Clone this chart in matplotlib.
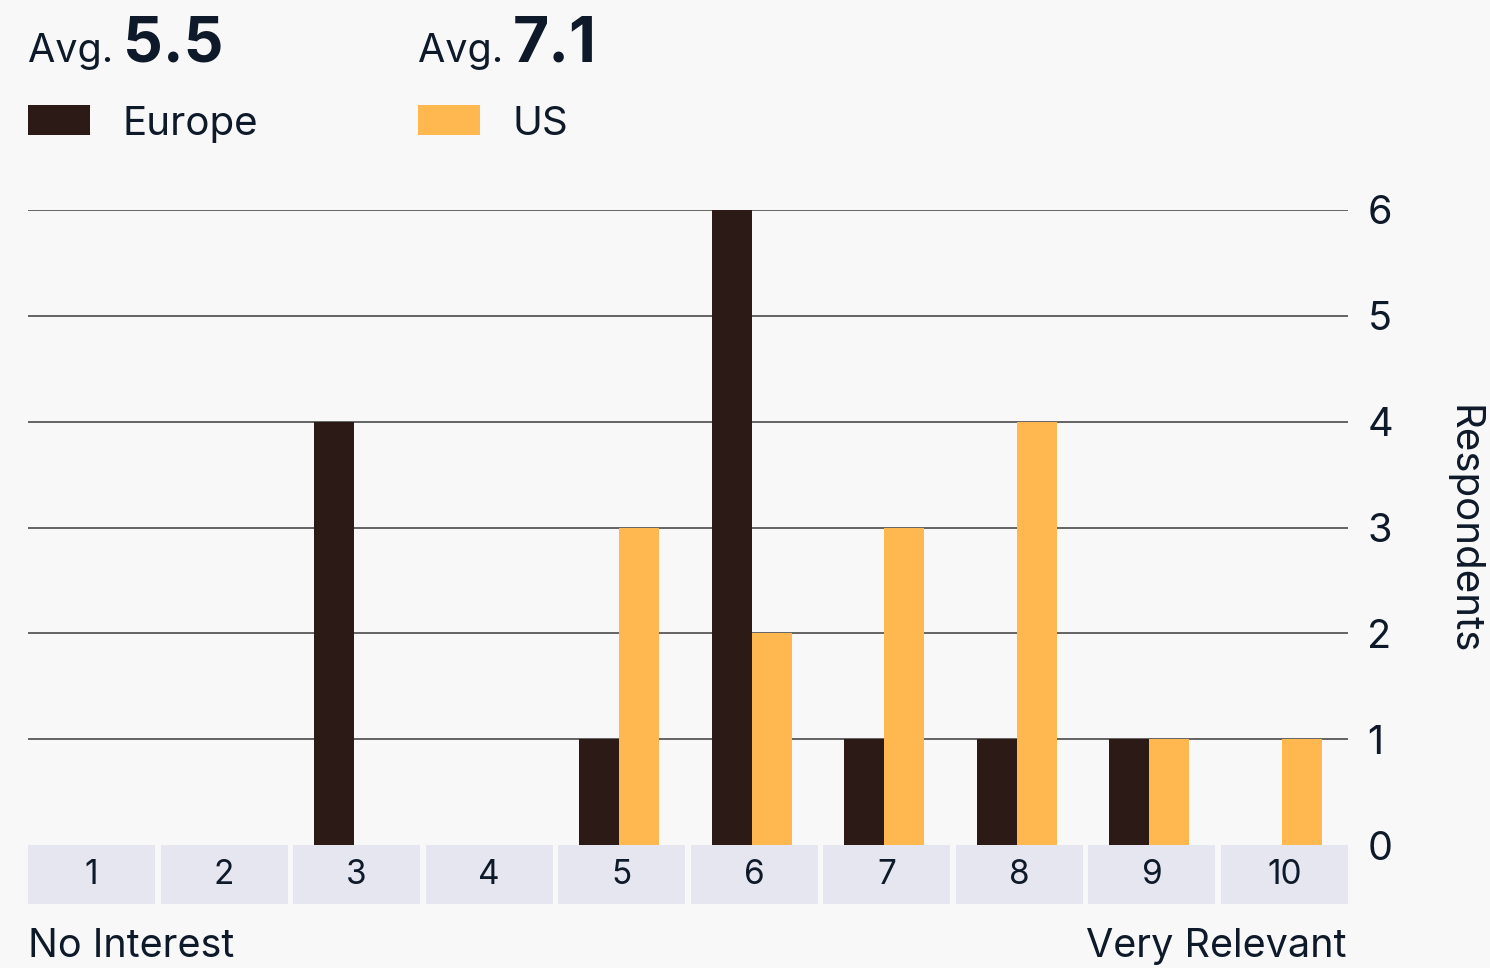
import matplotlib
matplotlib.use("Agg")
import matplotlib.pyplot as plt
from matplotlib.patches import Rectangle
import numpy as np

plt.rcParams["font.family"] = ["Inter", "DejaVu Sans"]

BG = "#f8f8f8"
INK = "#0e1a29"
EUROPE = "#2b1a16"
US = "#ffb84f"
CELL = "#e6e6f0"
GRID = "#4a4a4a"

# ── Data ──────────────────────────────────────────────────────────────────────
scores = [1, 2, 3, 4, 5, 6, 7, 8, 9, 10]
europe = [0, 0, 4, 0, 1, 6, 1, 1, 1, 0]
us = [0, 0, 0, 0, 3, 2, 3, 4, 1, 1]
series_names = ["Europe", "US"]
averages = ["5.5", "7.1"]
yticks = [0, 1, 2, 3, 4, 5, 6]

W, H = 1490, 968


def fx(px):
    return px / W


def fy(py):
    return 1 - py / H


fig = plt.figure(figsize=(W / 100, H / 100), dpi=100, facecolor=BG)
ax = fig.add_axes([fx(28), fy(845), fx(1348) - fx(28), fy(210) - fy(845)])
ax.set_facecolor(BG)

# bar pairs sit a touch left of the cell centre
x = np.array(scores) - 0.02
bw = 0.302
ax.bar(x - bw / 2, europe, width=bw, color=EUROPE, zorder=3)
ax.bar(x + bw / 2, us, width=bw, color=US, zorder=3)

for v in yticks[1:]:
    ax.axhline(v, color=GRID, linewidth=1.2, zorder=1)

ax.set_xlim(0.521, 10.479)
ax.set_ylim(0, 6)
for s in ax.spines.values():
    s.set_visible(False)
ax.set_xticks([])
ax.yaxis.set_ticks_position("right")
ax.set_yticks(yticks)
ax.tick_params(axis="y", length=0, pad=14, labelsize=28.5, labelcolor=INK)

# score cells below the baseline
cell_h = 59 / 105.8
for s in scores:
    ax.add_patch(Rectangle((s - 0.479, -cell_h), 0.958, cell_h, facecolor=CELL,
                           edgecolor="none", clip_on=False, zorder=2))
    ax.text(s, -cell_h / 2, str(s), ha="center", va="center", fontsize=24,
            color=INK, clip_on=False)

fig.text(fx(28), fy(957), "No Interest", ha="left", va="baseline",
         fontsize=28.5, color=INK)
fig.text(fx(1347), fy(957), "Very Relevant", ha="right", va="baseline",
         fontsize=28.5, color=INK)
fig.text(fx(1463), fy(530), "Respondents", rotation=270, ha="center",
         va="center", fontsize=29, color=INK)

# header: averages and legend
for x0, name, avg, col in zip([28, 418], series_names, averages, [EUROPE, US]):
    fig.text(fx(x0), fy(62), "Avg.", ha="left", va="baseline", fontsize=28.5,
             color=INK)
    fig.text(fx(x0 + 95), fy(62), avg, ha="left", va="baseline", fontsize=45,
             fontweight="bold", color=INK)
    fig.patches.append(Rectangle((fx(x0), fy(135)), fx(62), fy(105) - fy(135),
                                 transform=fig.transFigure, facecolor=col,
                                 edgecolor="none"))
    fig.text(fx(x0 + 94), fy(135), name, ha="left", va="baseline",
             fontsize=29, color=INK)

fig.savefig("out.png", dpi=100, facecolor=BG)
